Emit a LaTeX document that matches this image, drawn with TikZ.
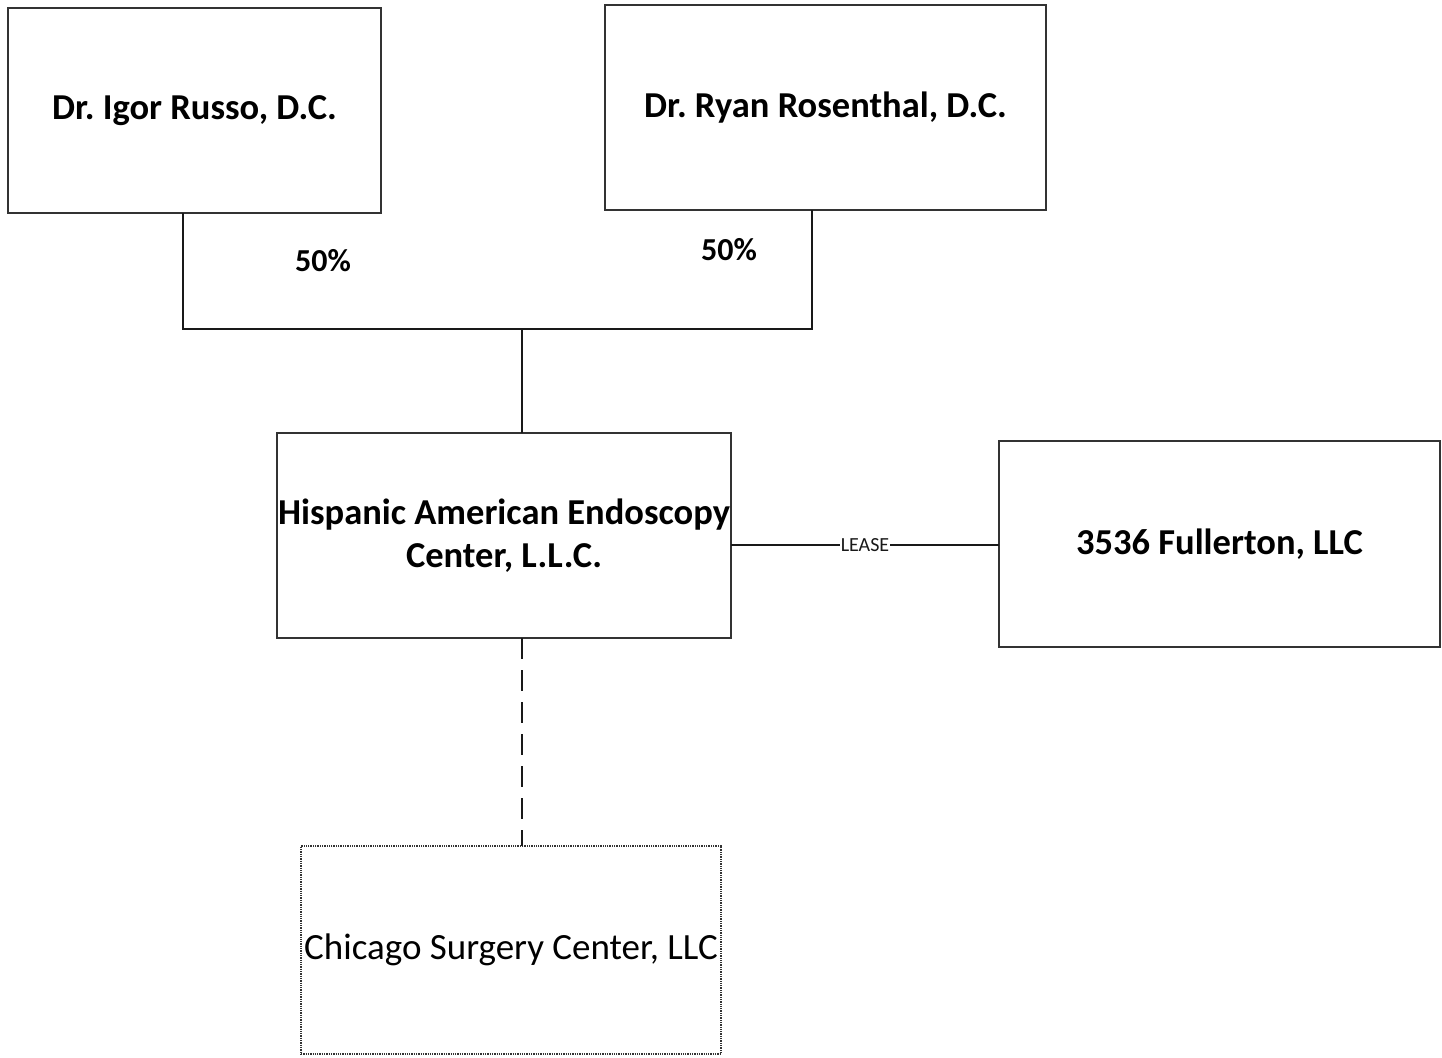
\documentclass[tikz,border=0pt]{standalone}
\usepackage{fontspec}
\setmainfont{Carlito}
\begin{document}
\frenchspacing
\begin{tikzpicture}[x=1pt,y=-1pt,
  box/.style={draw=black!80,line width=1.3pt,inner sep=0pt,outer sep=0pt,align=center,
    font=\fontsize{36.5}{43}\selectfont\bfseries},
  dbox/.style={box,densely dotted,font=\fontsize{37}{43}\selectfont},
  conn/.style={line width=2pt,black!90},
  pct/.style={font=\fontsize{32}{36}\selectfont\bfseries,inner sep=0pt}
]
\useasboundingbox (0,0) rectangle (1442,1057);
\node[box,minimum width=373pt,minimum height=205pt] (russo) at (194.5,110.5) {Dr. Igor Russo, D.C.};
\node[box,minimum width=441pt,minimum height=205pt] (rosen) at (825.5,107.5) {Dr. Ryan Rosenthal, D.C.};
\node[box,minimum width=454pt,minimum height=205pt] (hisp) at (504,535.5) {Hispanic American Endoscopy\\Center, L.L.C.};
\node[box,minimum width=441pt,minimum height=206pt] (full) at (1219.5,544) {3536 Fullerton, LLC};
\node[dbox,minimum width=420pt,minimum height=208pt] (chi) at (511,950) {Chicago Surgery Center, LLC};
\coordinate (j) at (522,329);
\draw[conn] (183,213) |- (j) -| (812,210);
\draw[conn] (j) -- (hisp.north -| j);
\draw[conn,dash pattern=on 21pt off 11pt] (hisp.south -| j) -- (chi.north -| j);
\draw[conn,line width=1.5pt] (hisp.east |- 0,545) -- node[fill=white,inner sep=1pt,font=\fontsize{20}{22}\selectfont] (lease) {LEASE} (full.west |- 0,545);
\node[pct] (p1) at (323,261) {50\%};
\node[pct] (p2) at (729,250) {50\%};
\end{tikzpicture}
\end{document}
